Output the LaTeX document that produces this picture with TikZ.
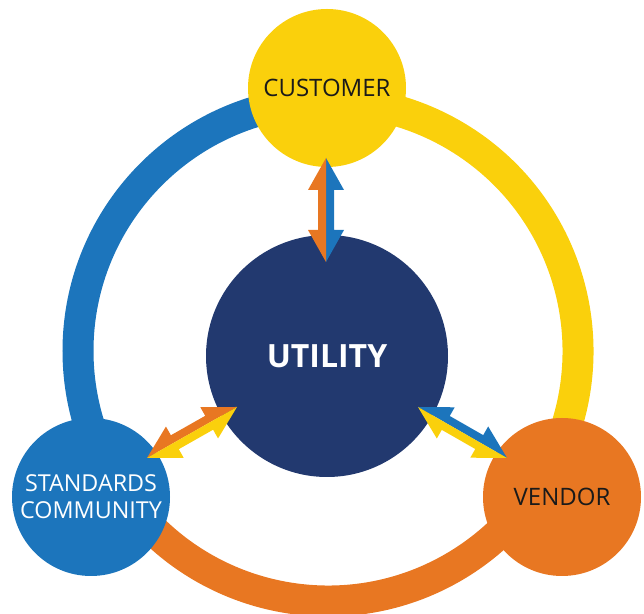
\documentclass[tikz,border=0pt]{standalone}
\usepackage{fontspec}
\setmainfont{Open Sans}
\usetikzlibrary{calc}
\definecolor{cblue}{HTML}{1C75BC}
\definecolor{cyellow}{HTML}{FAD00C}
\definecolor{corange}{HTML}{E87722}
\definecolor{cnavy}{HTML}{22396F}
\definecolor{ctext}{HTML}{1A1A1A}
% half of a double-headed arrow: #1,#2 tips, #3 side angle, #4 colour
\newcommand{\halfarrow}[4]{%
  \fill[#4] (#1) -- ($(#1)!24pt!(#2)!13.5pt!#3:(#2)$) -- ($(#1)!24pt!(#2)!6pt!#3:(#2)$)
    -- ($(#2)!24pt!(#1)!6pt!#3:(#2)$) -- ($(#2)!24pt!(#1)!13.5pt!#3:(#2)$) -- (#2) -- cycle;}
\tikzset{
  ring/.style={line width=23.25pt},
  sat/.style={circle, minimum size=118.5pt, inner sep=0pt, text=ctext,
    font=\fontsize{18}{20}\selectfont},
  hub/.style={circle, minimum size=181.5pt, inner sep=0pt, fill=cnavy, text=white,
    font=\fontsize{24}{28}\selectfont\bfseries}
}
\begin{document}
\begin{tikzpicture}[x=0.75pt,y=0.75pt]
\useasboundingbox (0,0) rectangle (644,614);
\clip (0,0) rectangle (644,614);
\coordinate (ctr) at (328,263);
\draw[ring,cblue] ($(ctr)+(90:187.5pt)$) arc[start angle=90,end angle=212,radius=187.5pt];
\draw[ring,corange] ($(ctr)+(212:187.5pt)$) arc[start angle=212,end angle=328,radius=187.5pt];
\draw[ring,cyellow] ($(ctr)+(-32:187.5pt)$) arc[start angle=-32,end angle=90,radius=187.5pt];
\node[hub] (util) at (327,258) {UTILITY};
\node[sat, fill=cyellow] (cust) at (327,526) {CUSTOMER};
\node[sat, fill=cblue, text=white, align=center, font=\fontsize{17.5}{20}\selectfont] (stand) at (91,117) {STANDARDS\\COMMUNITY};
\node[sat, fill=corange] (vend) at (562,117) {VENDOR};
\coordinate (cuA) at (326,456);
\coordinate (cuB) at (326,352);
\coordinate (stA) at (147,156);
\coordinate (stB) at (237,207);
\coordinate (veA) at (418,207);
\coordinate (veB) at (507,156);
\halfarrow{cuA}{cuB}{90}{cblue}
\halfarrow{cuA}{cuB}{-90}{corange}
\halfarrow{stA}{stB}{90}{corange}
\halfarrow{stA}{stB}{-90}{cyellow}
\halfarrow{veA}{veB}{90}{cblue}
\halfarrow{veA}{veB}{-90}{cyellow}
\end{tikzpicture}
\end{document}
